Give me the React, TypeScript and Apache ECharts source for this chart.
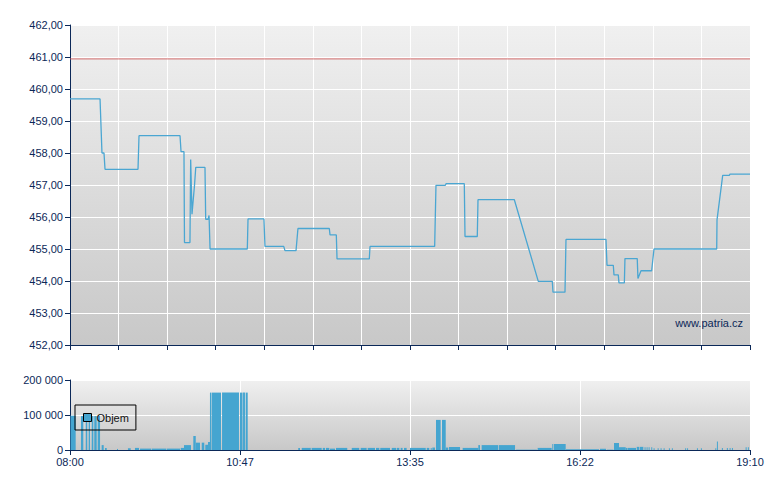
import React, { useEffect, useRef } from "react";
import * as echarts from "echarts";

// minutes after 08:00
const priceMinutes = [0, 29.6, 31.5, 33.5, 34.5, 67.0, 68.0, 108.4, 109.4, 112.3,
  112.8, 118.2, 118.9, 120.2, 122.7, 123.9, 133.0, 133.7, 136.0, 137.0,
  138.0, 174.7, 175.4, 191.1, 192.1, 210.6, 211.8, 222.7, 224.6, 255.5,
  256.2, 262.4, 263.1, 294.9, 295.6, 359.3, 360.6, 369.8, 370.5, 388.5,
  389.2, 401.3, 402.0, 437.8, 461.4, 475.2, 475.9, 487.7, 488.7, 528.1,
  529.1, 535.3, 536.0, 540.2, 540.9, 546.2, 546.8, 558.9, 559.6, 562.6,
  573.1, 575.4, 637.2, 637.5, 643.1, 649.6, 650.3, 670];
const priceValues = [459.69, 459.69, 458.00, 458.00, 457.49, 457.49, 458.54, 458.54, 458.04, 458.04,
  455.20, 455.20, 457.80, 456.09, 457.00, 457.55, 457.55, 455.93, 455.93, 456.05,
  455.00, 455.00, 455.94, 455.94, 455.08, 455.08, 454.95, 454.95, 455.64, 455.64,
  455.44, 455.44, 454.69, 454.69, 455.08, 455.08, 456.99, 456.99, 457.04, 457.04,
  455.39, 455.39, 456.54, 456.54, 453.99, 453.99, 453.65, 453.65, 455.30, 455.30,
  454.49, 454.49, 454.19, 454.19, 453.94, 453.94, 454.70, 454.70, 454.08, 454.32,
  454.32, 455.00, 455.00, 455.91, 457.30, 457.30, 457.34, 457.34];

const referencePrice = 460.94;

const volStart = [0.5, 10.8, 15.5, 18.4, 21.4, 23.9, 27.3, 31.2, 34.5, 46.3,
  57.1, 64.0, 69.0, 80.6, 95.6, 109.1, 112.3, 121.5, 123.9, 129.8,
  133.3, 136.0, 137.9, 139.9, 149.8, 167.5, 170.5, 173.1, 224.9, 228.3,
  238.1, 249.0, 252.2, 256.2, 262.1, 277.6, 286.4, 293.3, 301.5, 305.7,
  317.0, 321.9, 325.8, 329.1, 335.0, 351.5, 355.4, 357.0, 360.6, 366.5,
  370.2, 373.4, 386.9, 402.3, 405.6, 422.7, 439.5, 460.8, 475.2, 476.9,
  488.7, 522.2, 529.0, 536.0, 540.9, 547.5, 549.5, 558.4, 561.6, 566.1,
  568.1, 570.1, 572.7, 575.0, 579.0, 581.9, 584.9, 590.1, 593.0, 606.1,
  608.0, 617.7, 621.6, 635.8, 637.4, 642.3, 647.2, 649.9, 652.2, 665.7, 667.9];
const volEnd = [5.6, 13.1, 17.0, 19.7, 23.0, 26.3, 29.6, 33.2, 36.2, 47.3,
  59.8, 68.0, 80.0, 95.0, 108.4, 112.3, 119.2, 123.9, 128.1, 132.3,
  136.0, 137.9, 139.4, 148.8, 166.5, 170.0, 172.4, 175.1, 226.6, 237.2,
  248.0, 251.3, 255.5, 261.1, 273.2, 285.0, 292.3, 300.5, 304.8, 315.3,
  321.2, 324.5, 327.7, 331.7, 350.5, 354.0, 356.4, 359.6, 365.2, 370.2,
  372.7, 384.3, 402.3, 404.0, 422.0, 438.5, 460.0, 474.6, 476.2, 488.4,
  521.2, 528.1, 535.5, 540.9, 547.5, 549.2, 557.7, 561.0, 564.9, 566.9,
  568.9, 570.9, 573.5, 575.8, 579.8, 582.7, 585.7, 590.9, 593.8, 606.9,
  608.8, 618.5, 622.4, 636.6, 638.2, 643.1, 648.0, 650.7, 653.0, 666.5, 668.7];
const volValues = [98000, 97000, 97000, 97000, 97000, 97000, 97000, 14000, 6000, 3000,
  5000, 6000, 4000, 4000, 4000, 6000, 14000, 40000, 21000, 21000,
  15000, 23000, 164000, 164000, 164000, 164000, 164000, 164000, 6000, 6000,
  6000, 6000, 6000, 4000, 6000, 6000, 6000, 6000, 6000, 6000,
  6000, 6000, 6000, 6000, 6000, 6000, 6000, 7000, 86000, 86000,
  7000, 8500, 6000, 14000, 14000, 14000, 1000, 6000, 17000, 17000,
  2000, 3500, 1000, 20000, 8000, 6000, 6000, 9000, 9000, 8000,
  8000, 8000, 8000, 5000, 5000, 5000, 5000, 5000, 5000, 5000,
  5000, 5000, 5000, 5000, 24000, 6000, 6000, 6000, 6000, 8000, 8000];

const priceTicks = [452, 462, 1];
const volTicks = [0, 200000, 100000];
const sessionLength = 670; // 08:00 -> 19:10

const NAVY = "#0b2858";
const FONT = "Liberation Sans";

function fmtTime(v: number) {
  const m = Math.floor(v + 1e-6);
  const h = 8 + Math.floor(m / 60);
  const mm = m % 60;
  return String(h).padStart(2, "0") + ":" + String(mm).padStart(2, "0");
}

const bg = {
  type: "linear", x: 0, y: 0, x2: 0, y2: 1,
  colorStops: [{ offset: 0, color: "#f0f0f0" }, { offset: 1, color: "#c8c8c8" }],
};

export default function App() {
  const ref = useRef<HTMLDivElement>(null);
  useEffect(() => {
    if (!ref.current) return;
    const chart = echarts.init(ref.current, null, { renderer: "svg" });
    const priceData = priceMinutes.map((m, i) => [m, priceValues[i]]);
    const refData = [[0, referencePrice], [sessionLength, referencePrice]];
    const volData = volStart.map((s, i) => [s, volEnd[i], volValues[i]]);
    chart.setOption({
      animation: false,
      backgroundColor: "#ffffff",
      textStyle: { fontFamily: FONT },
      grid: [
        { left: 70, right: 30, top: 25, height: 320, show: true, backgroundColor: bg, borderWidth: 0 },
        { left: 70, right: 30, top: 380, height: 70, show: true, backgroundColor: bg, borderWidth: 0 },
      ],
      legend: {
        left: 75, top: 405,
        padding: [7, 7, 7, 8],
        itemWidth: 8, itemHeight: 8, itemGap: 4,
        borderColor: "#000", borderWidth: 1,
        textStyle: { fontFamily: FONT, fontSize: 11, color: "#111" },
        data: [{ name: "Objem", icon: "rect", itemStyle: { color: "#45a5d0", borderColor: "#000", borderWidth: 1 } }],
      },
      xAxis: [
        {
          type: "value", gridIndex: 0, min: 0, max: sessionLength, interval: sessionLength / 14,
          axisLine: { lineStyle: { color: NAVY, width: 1 } },
          axisTick: { show: true, length: 5, lineStyle: { color: NAVY } },
          axisLabel: { show: false },
          splitLine: { show: true, lineStyle: { color: "#ffffff", width: 1 } },
        },
        {
          type: "value", gridIndex: 1, min: 0, max: sessionLength, interval: sessionLength / 4,
          axisLine: { lineStyle: { color: NAVY, width: 1 } },
          axisTick: { show: true, length: 5, lineStyle: { color: NAVY } },
          axisLabel: { color: NAVY, fontSize: 11, fontFamily: FONT, formatter: fmtTime, margin: 6 },
          splitLine: { show: true, lineStyle: { color: "#ffffff", width: 1 } },
        },
      ],
      yAxis: [
        {
          type: "value", gridIndex: 0, min: priceTicks[0], max: priceTicks[1], interval: priceTicks[2],
          axisLine: { show: true, lineStyle: { color: NAVY, width: 1 } },
          axisTick: { show: true, length: 5, lineStyle: { color: NAVY } },
          axisLabel: { color: NAVY, fontSize: 11, fontFamily: FONT, margin: 7, formatter: (v: number) => v.toFixed(2).replace(".", ",") },
          splitLine: { show: true, lineStyle: { color: "#ffffff", width: 1 } },
        },
        {
          type: "value", gridIndex: 1, min: volTicks[0], max: volTicks[1], interval: volTicks[2],
          axisLine: { show: true, lineStyle: { color: NAVY, width: 1 } },
          axisTick: { show: true, length: 5, lineStyle: { color: NAVY } },
          axisLabel: { color: NAVY, fontSize: 11, fontFamily: FONT, margin: 7, formatter: (v: number) => String(v).replace(/\B(?=(\d{3})+(?!\d))/g, " ") },
          splitLine: { show: true, lineStyle: { color: "#ffffff", width: 1 } },
        },
      ],
      series: [
        {
          type: "line", name: "Reference", xAxisIndex: 0, yAxisIndex: 0,
          data: refData, showSymbol: false, symbol: "none", silent: true,
          lineStyle: { color: "#d05858", width: 1, opacity: 0.85 },
          z: 2,
        },
        {
          type: "line", name: "Cena", xAxisIndex: 0, yAxisIndex: 0,
          data: priceData, showSymbol: false, symbol: "none",
          lineStyle: { color: "#4aa6d2", width: 1.3 },
          z: 3,
        },
        {
          type: "custom", name: "Objem", xAxisIndex: 1, yAxisIndex: 1,
          data: volData,
          encode: { x: [0, 1], y: 2 },
          itemStyle: { color: "#45a5d0" },
          renderItem: (params: any, api: any) => {
            const p0 = api.coord([api.value(0), api.value(2)]);
            const p1 = api.coord([api.value(1), 0]);
            const w = Math.max(1, p1[0] - p0[0]);
            return {
              type: "rect",
              shape: { x: p0[0], y: p0[1], width: w, height: p1[1] - p0[1] },
              style: { fill: "#45a5d0" },
            };
          },
          z: 2,
        },
      ],
      graphic: [
        {
          type: "text", right: 37, top: 317, z: 10,
          style: { text: "www.patria.cz", fill: NAVY, font: "11px 'Liberation Sans'" },
        },
      ],
    });
    return () => chart.dispose();
  }, []);
  return <div ref={ref} style={{ position: "fixed", left: 0, top: 0, width: 780, height: 490 }} />;
}
